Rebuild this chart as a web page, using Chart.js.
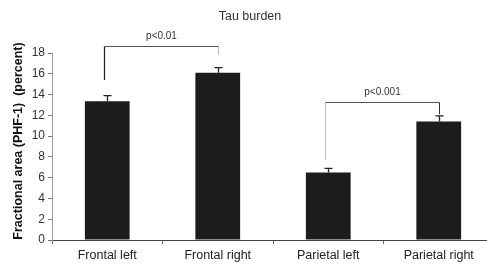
<!DOCTYPE html>
<html>
<head>
<meta charset="utf-8">
<script src="https://cdn.jsdelivr.net/npm/chart.js@4/dist/chart.umd.min.js"></script>
<style>
html,body{margin:0;padding:0;background:#fff;overflow:hidden;width:487px;height:265px;}
#wrap{position:relative;width:500px;height:265px;}
</style>
</head>
<body>
<div id="wrap"><canvas id="c" width="500" height="265"></canvas></div>
<script>
const categories = ['Frontal left', 'Frontal right', 'Parietal left', 'Parietal right'];
const values = [13.35, 16.1, 6.5, 11.4];
const errors = [0.55, 0.5, 0.4, 0.55];
const yTicks = [0, 2, 4, 6, 8, 10, 12, 14, 16, 18];
const titleText = 'Tau burden';
const yTitleText = 'Fractional area (PHF-1)  (percent)';
// comparison brackets: category indices, bracket level and leg ends (data units)
const bracketFrom = [0, 2];
const bracketTo = [1, 3];
const bracketLevel = [18.7, 13.3];
const bracketFromEnd = [15.4, 7.75];
const bracketToEnd = [17.8, 12.1];
const bracketLabel = ['p<0.01', 'p<0.001'];

const FONT = '"Liberation Sans", Arial, sans-serif';

const annot = {
  id: 'annot',
  afterDatasetsDraw(chart) {
    const ctx = chart.ctx;
    const xs = chart.scales.x, ys = chart.scales.y;
    ctx.save();
    // error bars
    ctx.strokeStyle = '#222';
    ctx.lineWidth = 1.3;
    for (let i = 0; i < values.length; i++) {
      const x = Math.round(xs.getPixelForValue(i)) + 0.5;
      const y0 = ys.getPixelForValue(values[i]);
      const y1 = ys.getPixelForValue(values[i] + errors[i]);
      ctx.beginPath();
      ctx.moveTo(x, y0); ctx.lineTo(x, y1);
      ctx.moveTo(x - 4, y1); ctx.lineTo(x + 4, y1);
      ctx.stroke();
    }
    // brackets
    for (let b = 0; b < bracketFrom.length; b++) {
      const xa = Math.round(xs.getPixelForValue(bracketFrom[b])) - 2.5;
      const xb = Math.round(xs.getPixelForValue(bracketTo[b])) + 0.5;
      const yl = Math.round(ys.getPixelForValue(bracketLevel[b])) + 0.5;
      const ya = ys.getPixelForValue(bracketFromEnd[b]);
      const yb = ys.getPixelForValue(bracketToEnd[b]);
      ctx.strokeStyle = '#555';
      ctx.lineWidth = 1;
      ctx.beginPath();
      ctx.moveTo(xa, yl); ctx.lineTo(xb, yl);
      ctx.stroke();
      // left leg
      ctx.strokeStyle = b === 0 ? '#222' : '#777';
      ctx.lineWidth = b === 0 ? 1.3 : 1;
      ctx.setLineDash(b === 0 ? [] : [1, 1]);
      ctx.beginPath(); ctx.moveTo(xa, yl); ctx.lineTo(xa, ya); ctx.stroke();
      // right leg
      ctx.strokeStyle = b === 0 ? '#777' : '#333';
      ctx.lineWidth = 1;
      ctx.setLineDash(b === 0 ? [1, 1] : []);
      ctx.beginPath(); ctx.moveTo(xb, yl); ctx.lineTo(xb, yb); ctx.stroke();
      ctx.setLineDash([]);
      ctx.fillStyle = '#333';
      ctx.font = '10px ' + FONT;
      ctx.textAlign = 'center';
      ctx.textBaseline = 'bottom';
      ctx.fillText(bracketLabel[b], (xa + xb) / 2, yl - 5);
    }
    // chart title
    ctx.fillStyle = '#333';
    ctx.font = '12.5px ' + FONT;
    ctx.textAlign = 'center';
    ctx.textBaseline = 'middle';
    ctx.fillText(titleText, 250, 17);
    // y title
    ctx.save();
    ctx.translate(19, 141);
    ctx.rotate(-Math.PI / 2);
    ctx.font = 'bold 12.5px ' + FONT;
    ctx.fillStyle = '#111';
    ctx.fillText(yTitleText, 0, 0);
    ctx.restore();
    ctx.restore();
  }
};

new Chart(document.getElementById('c'), {
  type: 'bar',
  data: {
    labels: categories,
    datasets: [{
      data: values,
      backgroundColor: '#1c1c1c',
      borderWidth: 0,
      categoryPercentage: 1,
      barPercentage: 0.405
    }]
  },
  options: {
    responsive: false,
    animation: false,
    devicePixelRatio: 1,
    layout: { padding: { top: 53, right: 6, left: 0, bottom: 0 } },
    plugins: { legend: { display: false }, tooltip: { enabled: false }, title: { display: false } },
    scales: {
      x: {
        afterFit(s) { s.height = 25; },
        grid: { offset: true, drawOnChartArea: false, drawTicks: true, tickLength: 4, color: '#666' },
        border: { color: '#444', width: 1 },
        ticks: { color: '#222', font: { family: FONT, size: 12.5 }, padding: 4, maxRotation: 0 }
      },
      y: {
        min: 0, max: 18,
        afterFit(s) { s.width = 52; },
        afterBuildTicks(s) { s.ticks = yTicks.map(v => ({ value: v })); },
        grid: { drawOnChartArea: false, drawTicks: true, tickLength: 4, color: '#777' },
        border: { color: '#999', width: 1, dash: [1, 1] },
        ticks: { color: '#333', font: { family: FONT, size: 12 }, padding: 3 }
      }
    }
  },
  plugins: [annot]
});
</script>
</body>
</html>
